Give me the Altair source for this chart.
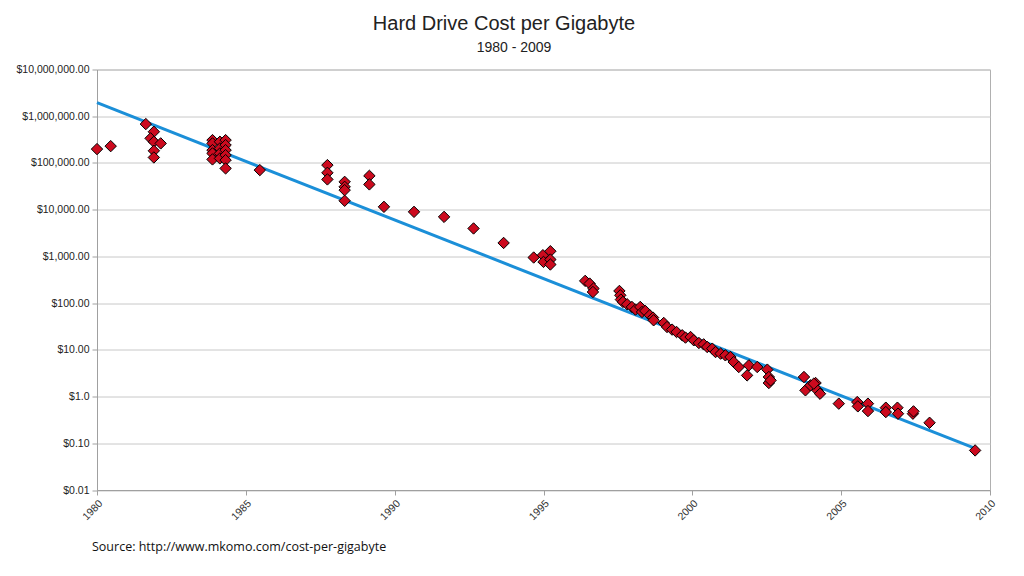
import altair as alt
import pandas as pd

# ---- data ----
years = [
    1980.00, 1980.46,
    1981.64, 1981.91, 1981.80, 1981.91, 1982.14, 1981.91, 1981.91,
    1983.88, 1983.88, 1983.88, 1983.88, 1983.88,
    1984.13, 1984.13, 1984.13, 1984.13,
    1984.32, 1984.32, 1984.32, 1984.32, 1984.32, 1984.32,
    1985.47,
    1987.74, 1987.74, 1987.74,
    1988.32, 1988.32, 1988.32, 1988.32,
    1989.15, 1989.15, 1989.64, 1990.65, 1991.66, 1992.65, 1993.66,
    1994.67, 1994.98, 1995.23, 1995.00, 1995.23, 1995.23,
    1996.40, 1996.55, 1996.68, 1996.66,
    1997.55, 1997.58, 1997.60, 1997.67, 1997.81, 1997.97, 1998.09, 1998.25,
    1998.31, 1998.42, 1998.57, 1998.68, 1998.70, 1999.04, 1999.15, 1999.32,
    1999.47, 1999.66, 1999.77, 1999.94, 2000.05, 2000.22, 2000.38, 2000.50,
    2000.67, 2000.78, 2000.95, 2001.11, 2001.28, 2001.39, 2001.56, 2001.84,
    2001.90, 2002.18, 2002.52, 2002.57, 2002.57, 2002.63,
    2003.75, 2003.80, 2003.97, 2004.14, 2004.20, 2004.29, 2004.08,
    2004.92, 2005.54, 2005.56, 2005.90, 2005.90, 2006.50, 2006.50,
    2006.89, 2006.91, 2007.41, 2007.43, 2007.97, 2009.50,
]
costs = [
    198000, 229000,
    679000, 465000, 336000, 284000, 262000, 182000, 131000,
    308000, 262000, 188000, 160000, 119000,
    284000, 205000, 160000, 125000,
    308000, 241000, 188000, 147000, 115000, 76400,
    70300,
    89900, 61500, 44400,
    39400, 30800, 26200, 15500,
    53000, 34700, 11500, 8980, 7010, 3960, 1940,
    946, 1060, 1290, 762, 857, 670,
    299, 262, 205, 173,
    182, 147, 119, 106, 94.4, 82.8, 72.8, 82.8,
    64.6, 67.9, 55.0, 49.0, 42.9, 37.6, 30.8, 27.1,
    24.1, 20.5, 18.3, 18.8, 16.0, 14.0, 13.1, 11.5,
    10.6, 8.97, 8.29, 7.63, 7.02, 5.48, 4.29, 2.84,
    4.66, 4.29, 3.77, 2.62, 1.95, 2.22,
    2.62, 1.36, 1.74, 1.95, 1.36, 1.15, 1.89,
    0.705, 0.762, 0.617, 0.705, 0.489, 0.578, 0.466,
    0.578, 0.430, 0.430, 0.482, 0.275, 0.0703,
]
trend_years = [1980.0, 2009.5]
trend_costs = [1945000, 0.0776]

x_ticks = [1980, 1985, 1990, 1995, 2000, 2005, 2010]
y_tick_values = [1e7, 1e6, 1e5, 1e4, 1e3, 100, 10, 1, 0.1, 0.01]
y_tick_labels = ["$10,000,000.00", "$1,000,000.00", "$100,000.00", "$10,000.00",
                 "$1,000.00", "$100.00", "$10.00", "$1.0", "$0.10", "$0.01"]

title_text = "Hard Drive Cost per Gigabyte"
subtitle_text = "1980 - 2009"
source_text = "Source: http://www.mkomo.com/cost-per-gigabyte"

pts = pd.DataFrame({"year": years, "cost": costs})
trend = pd.DataFrame({"year": trend_years, "cost": trend_costs})

# label expression built from the tick lists
expr = "''"
for v, lab in reversed(list(zip(y_tick_values, y_tick_labels))):
    expr = f"datum.value > {v * 0.5} ? '{lab}' : ({expr})"

W, H = 893, 420.5
FONT = "Liberation Sans"

x_enc = alt.X("year:Q", scale=alt.Scale(domain=[1980, 2010], nice=False, zero=False),
              axis=alt.Axis(values=x_ticks, format="d", title=None, grid=False,
                            labelAngle=315, labelAlign="right", labelBaseline="top",
                            labelFontSize=10.5, labelColor="#333333", labelFont=FONT,
                            labelPadding=3, tickSize=5, tickColor="#a0a0a0",
                            domainColor="#a0a0a0"))
y_enc = alt.Y("cost:Q", scale=alt.Scale(type="log", domain=[0.01, 1e7], nice=False),
              axis=alt.Axis(values=y_tick_values, labelExpr=expr, title=None,
                            grid=True, gridColor="#c8c8c8", domainColor="#a0a0a0",
                            tickColor="#a0a0a0", tickSize=5, labelFontSize=10.5,
                            labelColor="#222222", labelFont=FONT, labelPadding=3))


def text_layer(txt, x, y, size, font, align, color):
    return alt.Chart(pd.DataFrame({"t": [txt]})).mark_text(
        align=align, baseline="alphabetic", font=font, fontSize=size, color=color
    ).encode(x=alt.value(x), y=alt.value(y), text="t:N")


line = alt.Chart(trend).mark_line(color="#1b8fd8", strokeWidth=3).encode(x=x_enc, y=y_enc)
points = alt.Chart(pts).mark_point(shape="diamond", filled=True, fill="#cc0a1e",
                                   stroke="#000000", strokeWidth=1, size=130,
                                   opacity=1).encode(x="year:Q", y="cost:Q")
title = text_layer(title_text, 407, -39.5, 20, FONT, "center", "#222222")
subtitle = text_layer(subtitle_text, 417, -17.5, 14, FONT, "center", "#222222")
source = text_layer(source_text, -5, 481, 12.5, "Open Sans", "left", "#111111")

chart = alt.layer(line, points, title, subtitle, source).properties(
    width=W, height=H,
    autosize=alt.AutoSizeParams(type="none"),
    padding={"left": 89, "top": 61.5, "right": 26, "bottom": 70},
).configure_view(stroke="#b0b0b0")

chart.save("out.html", embed_options={"renderer": "svg", "actions": False})
